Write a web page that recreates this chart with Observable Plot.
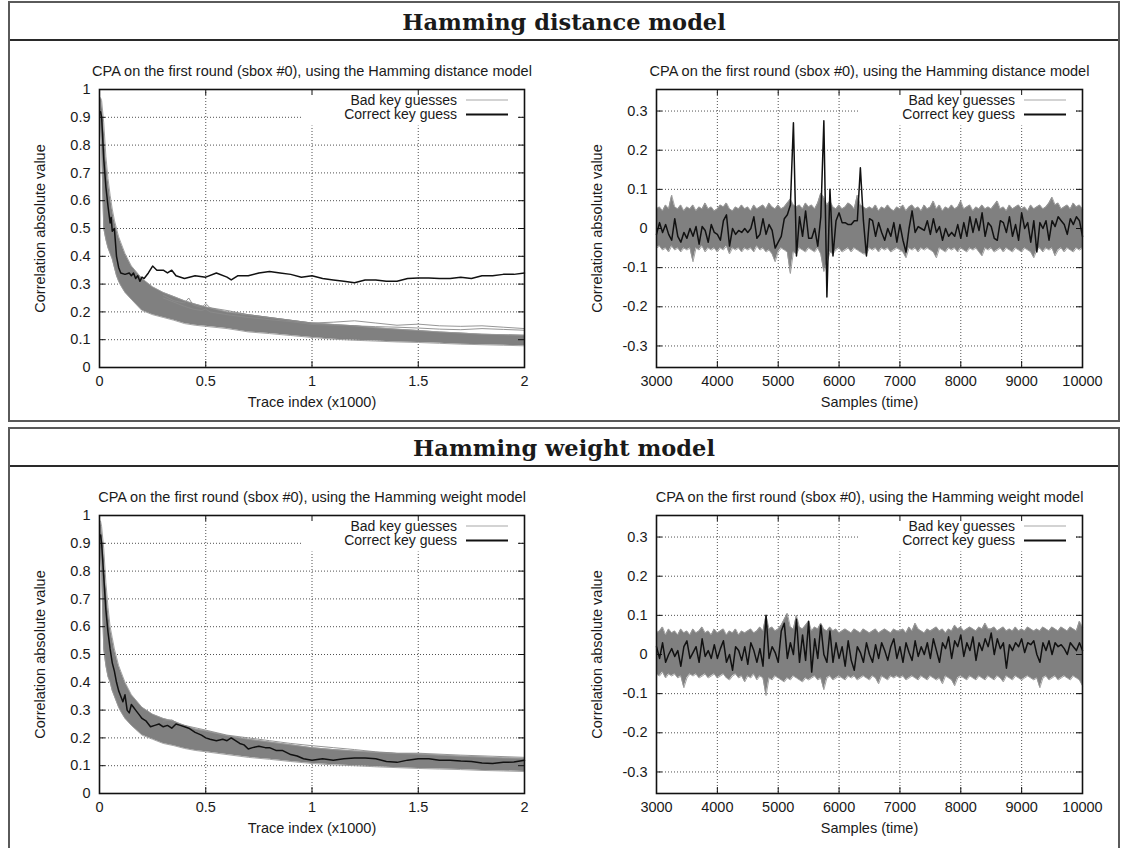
<!DOCTYPE html>
<html><head><meta charset="utf-8">
<script src="https://cdn.jsdelivr.net/npm/d3@7"></script>
<script src="https://cdn.jsdelivr.net/npm/@observablehq/plot@0.6"></script>
<style>
html,body{margin:0;padding:0;background:#fff;width:1121px;height:848px;overflow:hidden;}
.box{position:absolute;left:8px;width:1108px;border:2px solid #5a5a5a;background:#fff;}
.hdr{height:36px;border-bottom:2px solid #2a2a2a;text-align:center;font:bold 22.5px "DejaVu Serif",serif;line-height:38px;color:#1a1a1a;}
.row{display:flex;height:379px;}
.row svg{display:block;}
</style></head><body>
<div class="box" style="top:1px;height:417px"><div class="hdr">Hamming distance model</div><div class="row" id="r1"></div></div>
<div class="box" style="top:427px;height:440px"><div class="hdr">Hamming weight model</div><div class="row" id="r2"></div></div>
<script>
// ---------- shared labels ----------
const titleHD = "CPA on the first round (sbox #0), using the Hamming distance model";
const titleHW = "CPA on the first round (sbox #0), using the Hamming weight model";
const yLabel = "Correlation absolute value";
const xLabelTrace = "Trace index (x1000)";
const xLabelTime = "Samples (time)";
const legendBad = "Bad key guesses";
const legendGood = "Correct key guess";
const traceTicksX = [0, 0.5, 1, 1.5, 2];
const traceTicksY = [0, 0.1, 0.2, 0.3, 0.4, 0.5, 0.6, 0.7, 0.8, 0.9, 1];
const timeTicksX = [3000, 4000, 5000, 6000, 7000, 8000, 9000, 10000];
const timeTicksY = [-0.3, -0.2, -0.1, 0, 0.1, 0.2, 0.3];

// ---------- left plots: correlation vs number of traces (x1000) ----------
const traceX = [0.005,0.01,0.02,0.03,0.04,0.05,0.06,0.07,0.08,0.09,0.1,0.12,0.15,0.2,0.25,0.3,0.35,0.4,0.45,0.5,0.6,0.7,0.8,0.9,1.0,1.1,1.2,1.3,1.4,1.5,1.6,1.7,1.8,1.9,2.0];
const hdBandHi = [0.97,0.96,0.88,0.76,0.68,0.62,0.57,0.53,0.5,0.47,0.45,0.41,0.365,0.32,0.29,0.27,0.255,0.24,0.228,0.218,0.2,0.19,0.18,0.17,0.16,0.155,0.15,0.143,0.138,0.133,0.128,0.124,0.12,0.118,0.116];
const hdBandLo = [0.9,0.8,0.5,0.46,0.43,0.41,0.39,0.36,0.33,0.31,0.295,0.27,0.245,0.205,0.19,0.18,0.17,0.158,0.152,0.148,0.14,0.128,0.122,0.115,0.108,0.102,0.098,0.095,0.092,0.09,0.087,0.084,0.082,0.08,0.078];
const hwBandHi = [0.98,0.96,0.88,0.76,0.67,0.6,0.56,0.52,0.49,0.46,0.44,0.4,0.355,0.31,0.285,0.27,0.26,0.245,0.232,0.225,0.208,0.195,0.185,0.175,0.165,0.158,0.153,0.148,0.144,0.142,0.138,0.134,0.131,0.128,0.126];
const hwBandLo = [0.88,0.8,0.52,0.46,0.42,0.4,0.37,0.35,0.33,0.31,0.295,0.27,0.245,0.21,0.195,0.18,0.172,0.162,0.155,0.15,0.14,0.13,0.123,0.115,0.108,0.103,0.1,0.096,0.093,0.09,0.088,0.086,0.083,0.081,0.079];

// a few isolated bad-guess curves that stand above the band
const hdOutlierX = [0.3,0.35,0.4,0.42,0.44,0.48,0.5,0.52,0.6,0.7,0.8,0.9,1.0,1.1,1.2,1.3,1.4,1.5,1.6,1.7,1.8,1.9,2.0];
const hdOutlierA = [0.26,0.24,0.232,0.25,0.225,0.215,0.23,0.215,0.205,0.19,0.18,0.17,0.16,0.163,0.168,0.16,0.152,0.156,0.15,0.148,0.15,0.145,0.14];
const hdOutlierB = [0.25,0.235,0.22,0.215,0.21,0.205,0.21,0.2,0.19,0.18,0.172,0.165,0.155,0.152,0.15,0.147,0.145,0.142,0.138,0.136,0.14,0.137,0.134];
const hwOutlierX = [0.3,0.34,0.37,0.4,0.5,0.6,0.7,0.8,0.85,0.9,1.0,1.1,1.2,1.3,1.4,1.5,1.7,2.0];
const hwOutlierA = [0.26,0.265,0.25,0.245,0.228,0.21,0.2,0.19,0.185,0.18,0.172,0.165,0.158,0.15,0.145,0.145,0.138,0.13];

// correct key guess
const hdGoodX = [0.005,0.01,0.02,0.03,0.04,0.05,0.055,0.06,0.07,0.075,0.08,0.09,0.1,0.12,0.14,0.15,0.16,0.17,0.18,0.19,0.2,0.21,0.23,0.25,0.27,0.3,0.32,0.34,0.36,0.4,0.45,0.5,0.55,0.6,0.62,0.65,0.7,0.75,0.8,0.85,0.9,0.95,1.0,1.05,1.1,1.15,1.2,1.25,1.3,1.35,1.4,1.45,1.5,1.55,1.6,1.65,1.7,1.75,1.8,1.85,1.9,1.95,2.0];
const hdGoodY = [0.92,0.9,0.75,0.65,0.58,0.52,0.54,0.49,0.5,0.45,0.4,0.36,0.34,0.335,0.34,0.33,0.34,0.32,0.33,0.31,0.325,0.32,0.34,0.365,0.35,0.35,0.34,0.35,0.33,0.32,0.33,0.325,0.34,0.325,0.315,0.33,0.33,0.34,0.345,0.34,0.335,0.325,0.33,0.32,0.315,0.31,0.305,0.315,0.315,0.31,0.31,0.32,0.322,0.322,0.32,0.32,0.325,0.32,0.33,0.33,0.335,0.335,0.34];
const hwGoodX = [0.005,0.01,0.02,0.03,0.04,0.05,0.06,0.07,0.08,0.09,0.1,0.11,0.12,0.13,0.14,0.15,0.16,0.17,0.18,0.19,0.2,0.22,0.24,0.26,0.28,0.3,0.32,0.34,0.36,0.38,0.4,0.42,0.45,0.48,0.5,0.52,0.55,0.58,0.6,0.62,0.64,0.66,0.68,0.7,0.72,0.75,0.78,0.8,0.83,0.86,0.9,0.93,0.96,1.0,1.05,1.1,1.15,1.2,1.25,1.3,1.35,1.4,1.45,1.5,1.55,1.6,1.65,1.7,1.75,1.8,1.85,1.9,1.95,2.0];
const hwGoodY = [0.93,0.9,0.78,0.66,0.58,0.52,0.47,0.44,0.4,0.37,0.35,0.33,0.355,0.3,0.29,0.32,0.31,0.3,0.29,0.28,0.27,0.26,0.24,0.245,0.25,0.24,0.245,0.235,0.25,0.245,0.24,0.235,0.22,0.21,0.2,0.195,0.19,0.195,0.19,0.2,0.19,0.18,0.175,0.16,0.165,0.17,0.165,0.165,0.155,0.155,0.14,0.135,0.125,0.12,0.125,0.12,0.125,0.128,0.128,0.125,0.115,0.112,0.12,0.125,0.125,0.12,0.12,0.117,0.115,0.11,0.108,0.112,0.113,0.12];

// ---------- right plots: correlation vs time sample (every 50 samples, 3000..10000) ----------
const timeX = d3.range(3000, 10001, 50);
const hdGoodT = [
 -0.015,0.015,-0.01,0.01,-0.015,-0.03,0.025,-0.02,-0.035,-0.01,
 -0.025,0.0,-0.02,0.005,-0.04,0.005,-0.005,-0.035,0.01,-0.01,
 -0.015,-0.03,0.02,0.035,-0.045,0.0,-0.015,-0.005,-0.01,0.0,
 -0.01,0.0,0.03,-0.025,-0.015,0.025,-0.015,0.01,-0.005,-0.05,
 -0.035,-0.02,0.025,0.035,0.06,0.27,-0.07,0.03,-0.02,0.045,
 -0.025,-0.025,0.0,-0.045,0.03,0.275,-0.175,0.1,-0.07,0.02,
 0.04,0.015,0.015,0.01,0.01,0.02,0.02,0.155,0.02,-0.07,
 0.025,0.02,-0.02,0.015,-0.01,-0.03,0.0,-0.02,0.015,-0.035,
 0.01,-0.03,-0.06,0.0,0.045,-0.01,0.005,0.0,-0.005,0.02,
 -0.015,0.025,-0.01,0.005,-0.03,0.0,-0.02,-0.01,-0.02,0.01,
 -0.025,0.015,-0.02,0.03,-0.01,0.025,-0.005,0.04,-0.02,0.015,
 0.005,-0.025,-0.03,0.02,0.015,-0.01,0.03,-0.02,0.01,-0.03,
 0.04,0.0,0.015,-0.035,0.02,-0.06,0.015,0.0,0.02,-0.03,
 0.02,0.005,0.03,0.02,0.01,-0.015,0.025,0.01,0.03,0.02,
 -0.02];
const hdBandHiT = [
 0.05,0.055,0.045,0.06,0.05,0.085,0.055,0.05,0.06,0.045,
 0.055,0.05,0.06,0.045,0.055,0.05,0.065,0.05,0.055,0.045,
 0.05,0.06,0.055,0.065,0.05,0.045,0.055,0.05,0.06,0.05,
 0.055,0.045,0.06,0.05,0.055,0.06,0.05,0.065,0.055,0.05,
 0.06,0.05,0.055,0.065,0.075,0.06,0.055,0.06,0.05,0.065,
 0.055,0.06,0.05,0.065,0.09,0.08,0.06,0.07,0.055,0.05,
 0.06,0.05,0.055,0.065,0.06,0.05,0.085,0.06,0.055,0.05,
 0.055,0.05,0.06,0.045,0.055,0.05,0.06,0.05,0.045,0.055,
 0.05,0.06,0.045,0.055,0.06,0.05,0.055,0.045,0.06,0.05,
 0.055,0.07,0.05,0.06,0.045,0.055,0.05,0.06,0.05,0.055,
 0.07,0.05,0.055,0.06,0.045,0.055,0.05,0.06,0.05,0.055,
 0.05,0.06,0.07,0.05,0.055,0.045,0.06,0.05,0.055,0.06,
 0.05,0.055,0.045,0.06,0.05,0.055,0.06,0.05,0.055,0.065,
 0.08,0.06,0.065,0.05,0.055,0.06,0.05,0.065,0.055,0.06,
 0.05];
const hdBandLoT = [
 -0.05,-0.045,-0.055,-0.05,-0.06,-0.045,-0.055,-0.05,-0.06,-0.05,
 -0.055,-0.05,-0.085,-0.05,-0.055,-0.045,-0.06,-0.05,-0.055,-0.05,
 -0.06,-0.05,-0.055,-0.045,-0.065,-0.05,-0.055,-0.05,-0.06,-0.05,
 -0.055,-0.05,-0.06,-0.045,-0.055,-0.05,-0.06,-0.055,-0.065,-0.085,
 -0.06,-0.05,-0.055,-0.06,-0.115,-0.06,-0.065,-0.05,-0.055,-0.06,
 -0.05,-0.055,-0.06,-0.05,-0.065,-0.11,-0.09,-0.06,-0.065,-0.055,
 -0.05,-0.06,-0.055,-0.05,-0.06,-0.05,-0.055,-0.06,-0.065,-0.065,
 -0.05,-0.055,-0.05,-0.06,-0.05,-0.055,-0.05,-0.06,-0.055,-0.05,
 -0.055,-0.06,-0.075,-0.05,-0.055,-0.05,-0.06,-0.05,-0.055,-0.05,
 -0.055,-0.06,-0.075,-0.05,-0.055,-0.06,-0.05,-0.055,-0.05,-0.06,
 -0.05,-0.055,-0.06,-0.05,-0.055,-0.05,-0.06,-0.07,-0.05,-0.055,
 -0.05,-0.06,-0.055,-0.05,-0.06,-0.05,-0.055,-0.06,-0.05,-0.055,
 -0.06,-0.05,-0.055,-0.06,-0.075,-0.055,-0.05,-0.06,-0.05,-0.055,
 -0.05,-0.07,-0.055,-0.05,-0.06,-0.05,-0.055,-0.06,-0.05,-0.055,
 -0.05];
const hwGoodT = [
 0.02,-0.01,0.03,-0.02,0.0,0.015,-0.005,0.01,-0.03,0.02,
 0.035,-0.01,0.005,0.02,-0.02,0.04,-0.005,0.01,-0.01,0.025,
 -0.01,0.015,0.035,-0.02,0.0,-0.04,0.02,0.01,-0.015,0.02,
 -0.025,0.03,0.01,-0.02,0.015,-0.03,0.1,-0.01,0.02,0.005,
 -0.02,0.06,0.08,-0.01,0.03,0.0,0.09,-0.02,0.05,-0.015,
 0.085,-0.045,0.04,-0.01,0.075,0.0,-0.02,0.06,-0.02,0.03,
 -0.01,0.02,-0.03,0.035,-0.015,-0.04,0.02,0.005,-0.02,0.03,
 0.0,-0.02,0.025,-0.01,0.03,0.01,-0.015,0.02,0.04,-0.01,
 0.02,-0.02,0.03,0.005,-0.015,0.035,-0.005,0.02,0.0,0.03,
 -0.01,0.04,0.01,-0.02,0.03,0.015,0.045,-0.01,0.035,0.02,
 0.05,-0.005,0.03,0.01,0.045,-0.015,0.03,0.01,0.04,0.02,
 0.055,0.0,0.04,0.015,0.03,-0.035,0.025,0.01,0.03,0.02,
 0.04,0.005,0.03,0.025,0.035,0.0,-0.02,0.03,0.01,0.035,
 0.0,0.03,0.02,0.025,0.015,0.0,0.03,0.02,0.01,0.03,
 0.01];
const hwBandHiT = [
 0.055,0.06,0.07,0.05,0.065,0.055,0.06,0.05,0.065,0.055,
 0.06,0.05,0.065,0.055,0.06,0.07,0.055,0.06,0.05,0.065,
 0.055,0.06,0.065,0.05,0.06,0.055,0.065,0.05,0.06,0.055,
 0.06,0.065,0.055,0.06,0.07,0.06,0.1,0.065,0.07,0.06,
 0.065,0.075,0.09,0.105,0.07,0.065,0.1,0.07,0.065,0.075,
 0.085,0.06,0.07,0.065,0.08,0.065,0.06,0.07,0.06,0.065,
 0.055,0.06,0.065,0.06,0.055,0.065,0.06,0.055,0.065,0.06,
 0.055,0.06,0.065,0.055,0.06,0.065,0.06,0.055,0.065,0.06,
 0.06,0.065,0.055,0.07,0.06,0.08,0.065,0.06,0.055,0.065,
 0.06,0.065,0.07,0.06,0.065,0.055,0.065,0.06,0.075,0.065,
 0.07,0.06,0.065,0.07,0.065,0.06,0.07,0.065,0.08,0.065,
 0.065,0.07,0.06,0.065,0.07,0.06,0.065,0.06,0.07,0.06,
 0.065,0.06,0.07,0.065,0.06,0.065,0.06,0.07,0.065,0.06,
 0.07,0.065,0.06,0.07,0.065,0.06,0.07,0.065,0.06,0.085,
 0.07];
const hwBandLoT = [
 -0.05,-0.055,-0.045,-0.06,-0.05,-0.055,-0.05,-0.06,-0.055,-0.085,
 -0.06,-0.05,-0.055,-0.05,-0.06,-0.055,-0.05,-0.06,-0.055,-0.05,
 -0.06,-0.055,-0.05,-0.06,-0.065,-0.055,-0.05,-0.06,-0.055,-0.07,
 -0.055,-0.06,-0.05,-0.065,-0.055,-0.06,-0.105,-0.06,-0.065,-0.055,
 -0.06,-0.065,-0.07,-0.06,-0.065,-0.055,-0.06,-0.065,-0.07,-0.06,
 -0.065,-0.06,-0.055,-0.065,-0.06,-0.09,-0.06,-0.055,-0.065,-0.06,
 -0.055,-0.06,-0.065,-0.055,-0.06,-0.055,-0.065,-0.06,-0.055,-0.06,
 -0.065,-0.055,-0.06,-0.075,-0.055,-0.06,-0.065,-0.055,-0.06,-0.055,
 -0.06,-0.055,-0.065,-0.06,-0.055,-0.06,-0.065,-0.055,-0.06,-0.065,
 -0.055,-0.06,-0.065,-0.06,-0.075,-0.055,-0.06,-0.065,-0.08,-0.06,
 -0.055,-0.06,-0.065,-0.055,-0.06,-0.065,-0.055,-0.06,-0.065,-0.055,
 -0.06,-0.065,-0.055,-0.06,-0.07,-0.055,-0.06,-0.065,-0.055,-0.06,
 -0.065,-0.06,-0.055,-0.06,-0.065,-0.06,-0.085,-0.06,-0.055,-0.065,
 -0.06,-0.055,-0.065,-0.06,-0.055,-0.06,-0.065,-0.055,-0.06,-0.065,
 -0.08];

// ---------- helpers ----------
const band = (xs, lo, hi) => xs.map((x, i) => ({x, lo: lo[i], hi: hi[i]}));
const series = (xs, ys) => xs.map((x, i) => ({x, y: ys[i]}));
const H = 379, MT = 48, MB = 53;
const INNER_H = H - MT - MB;
const TICK = 6;
const FS = 14.5;
const LFS = 14;
const fmt = d => String(d);

function legend(index, scales, values, dim) {
  const right = dim.width - dim.marginRight, top = dim.marginTop;
  const g = d3.create("svg:g");
  g.append("rect").attr("x", right - 222).attr("y", top + 1.5).attr("width", 215).attr("height", 35).attr("fill", "white");
  const rows = [[legendBad, "#a8a8a8", 1.2, 11], [legendGood, "#111", 2, 25.5]];
  for (const [label, color, sw, dy] of rows) {
    g.append("text").attr("x", right - 67).attr("y", top + dy).attr("dy", "0.35em")
      .attr("text-anchor", "end").attr("fill", "#1a1a1a").attr("font-size", LFS).text(label);
    g.append("line").attr("x1", right - 58).attr("x2", right - 16).attr("y1", top + dy).attr("y2", top + dy)
      .attr("stroke", color).attr("stroke-width", sw);
  }
  return g.node();
}

function panel({width, marginLeft, marginRight, xDomain, yDomain, xTicks, yTicks, bandData, outliers, good, title, xLabel}) {
  const innerW = width - marginLeft - marginRight;
  return Plot.plot({
    width, height: H, marginLeft, marginRight, marginTop: MT, marginBottom: MB,
    x: {domain: xDomain}, y: {domain: yDomain},
    style: {fontFamily: "'Liberation Sans', Arial, sans-serif", fontSize: FS + "px", color: "#1a1a1a", background: "transparent"},
    marks: [
      Plot.gridX(xTicks, {stroke: "#333", strokeOpacity: 0.85, strokeDasharray: "1,2"}),
      Plot.gridY(yTicks, {stroke: "#333", strokeOpacity: 0.85, strokeDasharray: "1,2"}),
      legend,
      Plot.areaY(bandData, {x: "x", y1: "lo", y2: "hi", fill: "#808080"}),
      Plot.line(bandData, {x: "x", y: "hi", stroke: "#9a9a9a", strokeWidth: 0.9}),
      Plot.line(bandData, {x: "x", y: "lo", stroke: "#9a9a9a", strokeWidth: 0.9}),
      Plot.line(outliers, {x: "x", y: "y", z: "id", stroke: "#8a8a8a", strokeWidth: 0.9}),
      Plot.line(good, {x: "x", y: "y", stroke: "#111", strokeWidth: 1.5}),
      Plot.ruleX(xTicks, {stroke: "#111", insetTop: INNER_H - TICK}),
      Plot.ruleX(xTicks, {stroke: "#111", insetBottom: INNER_H - TICK}),
      Plot.ruleY(yTicks, {stroke: "#111", insetRight: innerW - TICK}),
      Plot.ruleY(yTicks, {stroke: "#111", insetLeft: innerW - TICK}),
      Plot.frame({stroke: "#111", strokeWidth: 1.6}),
      Plot.axisX({ticks: xTicks, tickSize: 0, tickPadding: 8, tickFormat: fmt, label: null, fontSize: FS}),
      Plot.axisY({ticks: yTicks, tickSize: 0, tickPadding: 9, tickFormat: fmt, label: null, fontSize: FS}),
      Plot.text([title], {frameAnchor: "top", dy: -24, fill: "#1a1a1a", fontSize: FS}),
      Plot.text([xLabel], {frameAnchor: "bottom", dy: 39, fill: "#1a1a1a", fontSize: FS}),
      Plot.text([yLabel], {frameAnchor: "left", textAnchor: "middle", dx: -59, rotate: -90, fill: "#1a1a1a", fontSize: FS})
    ]
  });
}

const hdOut = [...series(hdOutlierX, hdOutlierA).map(d => ({...d, id: "a"})), ...series(hdOutlierX, hdOutlierB).map(d => ({...d, id: "b"}))];
const hwOut = series(hwOutlierX, hwOutlierA).map(d => ({...d, id: "a"}));

const leftCfg = {width: 554, marginLeft: 89, marginRight: 40, xDomain: [0, 2], yDomain: [0, 1], xTicks: traceTicksX, yTicks: traceTicksY, xLabel: xLabelTrace};
const rightCfg = {width: 554, marginLeft: 92, marginRight: 36, xDomain: [3000, 10000], yDomain: [-0.355, 0.355], xTicks: timeTicksX, yTicks: timeTicksY, xLabel: xLabelTime, outliers: []};

const r1 = document.getElementById("r1"), r2 = document.getElementById("r2");
r1.append(panel({...leftCfg, bandData: band(traceX, hdBandLo, hdBandHi), outliers: hdOut, good: series(hdGoodX, hdGoodY), title: titleHD}));
r1.append(panel({...rightCfg, bandData: band(timeX, hdBandLoT, hdBandHiT), good: series(timeX, hdGoodT), title: titleHD}));
r2.append(panel({...leftCfg, bandData: band(traceX, hwBandLo, hwBandHi), outliers: hwOut, good: series(hwGoodX, hwGoodY), title: titleHW}));
r2.append(panel({...rightCfg, bandData: band(timeX, hwBandLoT, hwBandHiT), good: series(timeX, hwGoodT), title: titleHW}));
</script>
</body></html>
